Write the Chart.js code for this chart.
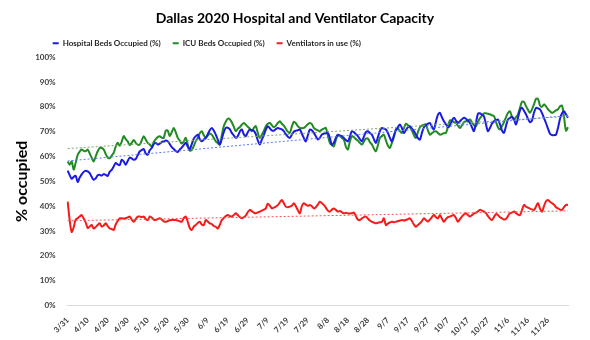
<!DOCTYPE html>
<html>
<head>
<meta charset="utf-8">
<script src="https://cdn.jsdelivr.net/npm/chart.js@4.4.1/dist/chart.umd.min.js"></script>
<style>
  html, body { margin: 0; padding: 0; background: #fff; }
  #wrap { width: 590px; height: 340px; position: relative; }
</style>
</head>
<body>
<div id="wrap"><canvas id="chart"></canvas></div>
<script>
// daily values, 3/31 .. 12/6 (one row = 10 days)
const hospital = [
  54.3,52.5,51.0,51.8,52.2,49.7,51.5,52.8,53.8,54.3,
  54.0,53.3,51.8,50.6,51.2,52.4,52.6,52.3,52.9,52.6,
  52.2,53.8,54.6,56.0,57.4,56.8,56.5,58.7,58.0,56.7,
  58.2,59.6,59.2,58.7,59.0,60.5,62.1,62.6,63.0,61.2,
  60.7,62.5,63.4,65.0,65.5,64.8,65.2,65.8,66.1,66.4,
  66.1,65.0,63.8,63.0,62.2,61.8,62.8,63.6,64.6,65.5,
  64.0,62.8,65.0,67.2,68.2,68.8,67.0,66.1,66.8,67.5,
  69.0,70.6,71.5,70.5,68.8,66.8,64.8,67.0,69.8,71.5,
  71.6,71.0,69.5,68.5,67.5,68.2,70.0,70.9,69.0,68.2,
  69.8,70.9,70.6,70.4,69.0,66.5,64.8,66.8,68.5,70.8,
  72.2,71.4,70.5,70.4,71.0,71.5,71.2,70.9,70.2,69.0,
  68.0,67.5,68.8,70.0,70.4,70.6,70.9,69.2,67.5,66.1,
  68.5,70.8,70.6,69.5,68.2,66.8,67.5,68.8,69.2,69.4,
  69.5,67.5,64.8,65.5,67.5,68.8,68.5,68.2,67.5,66.6,
  66.1,68.0,70.2,69.8,69.0,68.2,67.0,66.1,68.0,69.8,
  70.2,69.5,68.8,67.0,65.5,67.8,70.2,71.5,71.2,70.9,
  69.5,67.5,66.1,68.4,70.5,71.8,72.9,71.5,69.5,70.6,
  71.8,72.2,71.2,70.2,68.8,67.5,66.8,69.5,71.8,72.6,
  73.2,73.5,72.0,70.9,74.0,76.8,77.6,75.8,74.2,73.0,
  71.8,72.5,74.5,75.6,74.5,73.6,74.2,75.0,75.6,75.2,
  74.4,73.5,71.8,70.2,73.5,77.2,77.4,76.8,76.2,73.0,
  70.2,71.5,73.2,74.2,74.6,74.9,73.0,70.5,69.5,72.2,
  74.9,75.5,76.0,75.0,72.9,75.5,78.6,79.6,78.4,77.0,
  75.2,73.8,74.5,77.6,79.6,79.4,79.0,77.5,75.5,73.5,
  71.2,69.2,68.6,68.6,68.8,71.5,75.2,77.4,78.2,77.0,
  75.6
];
const icu = [
  58.0,56.7,58.0,54.7,57.5,60.7,62.0,62.8,62.3,62.1,
  62.8,61.2,59.5,58.0,60.0,62.1,63.4,63.4,62.8,61.0,
  59.6,59.3,60.4,61.5,64.0,65.5,64.3,66.0,68.2,67.0,
  66.1,64.6,65.5,66.6,65.5,64.8,64.8,66.5,68.2,66.8,
  65.5,64.8,64.1,65.8,67.0,67.8,68.2,67.6,67.5,70.4,
  70.4,68.2,69.8,71.5,69.8,67.5,66.4,65.2,66.0,67.5,
  64.8,62.4,62.6,64.2,66.2,67.5,69.4,70.2,68.6,67.5,
  68.4,69.3,68.8,67.5,66.1,65.4,64.8,68.5,72.2,74.0,
  75.2,75.0,73.8,72.0,70.2,71.2,71.8,72.8,73.5,72.8,
  72.0,71.2,70.2,71.5,72.2,69.5,67.5,68.8,70.2,72.2,
  73.2,73.5,72.6,71.8,72.4,73.5,74.2,73.2,72.4,71.2,
  70.0,69.5,72.0,74.0,73.4,72.2,71.5,71.4,71.5,72.2,
  73.0,73.5,73.0,71.5,70.9,70.5,70.2,70.8,71.2,71.5,
  68.5,65.5,64.6,64.1,66.6,68.5,68.2,67.5,66.8,64.0,
  62.8,66.0,68.2,67.8,67.0,66.4,65.5,64.8,66.0,67.2,
  67.2,65.8,64.8,63.2,62.1,64.5,67.5,68.2,68.8,66.5,
  64.4,63.4,65.5,67.8,71.0,71.2,70.2,69.5,71.4,73.2,
  72.6,71.8,70.5,68.6,67.5,69.8,71.8,72.4,72.8,72.9,
  70.5,68.8,69.4,70.0,70.2,69.5,68.8,69.0,69.4,69.5,
  72.0,74.6,74.4,73.8,73.5,72.4,71.5,72.6,73.8,74.2,
  74.6,74.9,73.8,72.6,72.2,74.0,75.4,76.5,77.4,77.4,
  77.2,77.0,76.6,76.3,74.0,71.8,70.9,72.2,73.8,75.8,
  77.5,78.2,76.0,74.9,75.8,77.0,79.6,82.0,82.0,80.3,
  78.8,77.6,79.0,81.0,83.2,83.2,80.6,80.0,81.0,80.2,
  79.0,78.2,77.6,78.0,78.6,79.0,80.2,80.5,76.0,70.4,
  71.8
];
const ventilators = [
  41.8,34.4,29.6,31.5,34.6,35.1,35.8,36.4,35.0,33.5,
  31.2,31.8,32.4,31.0,31.6,32.4,33.1,31.8,32.2,33.1,
  32.0,31.0,30.8,30.4,32.6,34.0,35.1,35.1,35.0,35.1,
  35.5,35.8,34.6,33.7,34.8,35.8,35.8,35.6,35.8,34.8,
  34.4,35.8,35.4,34.6,34.4,34.8,35.1,34.6,33.9,33.7,
  34.0,34.3,34.4,34.4,34.4,34.2,33.9,33.7,35.2,35.8,
  33.7,31.2,30.4,31.8,32.4,33.2,33.7,32.6,32.4,34.4,
  33.8,33.1,32.8,32.0,31.7,31.0,32.4,34.4,35.2,36.0,
  36.4,36.0,35.8,36.4,37.1,36.4,35.6,35.1,35.6,36.2,
  37.6,38.5,38.0,37.4,37.1,37.5,37.8,38.2,38.6,39.1,
  41.0,40.2,39.1,39.4,39.8,40.4,41.5,42.5,41.2,39.8,
  39.6,39.8,40.2,41.2,40.0,38.4,37.1,40.0,41.2,40.6,
  40.2,40.5,40.0,39.1,39.6,40.6,41.8,41.2,40.5,39.4,
  38.2,37.8,38.6,39.1,38.5,37.8,38.0,37.6,37.1,37.3,
  37.1,37.0,37.2,37.4,36.0,34.6,34.4,35.0,35.6,35.8,
  35.0,34.2,33.7,33.4,33.1,33.3,33.5,33.7,35.1,32.4,
  33.0,33.4,33.7,33.5,33.7,34.0,34.2,34.4,34.2,34.4,
  34.8,35.1,34.0,32.6,31.7,32.4,33.1,34.0,35.1,34.4,
  33.8,34.6,35.6,36.4,35.6,35.1,36.4,35.0,33.7,34.8,
  35.6,35.8,36.2,36.4,35.2,33.7,34.8,35.8,36.6,37.1,
  36.4,35.8,36.4,37.0,37.4,37.9,38.5,38.2,37.8,37.2,
  36.0,35.0,34.4,35.6,36.8,36.4,35.5,35.1,34.6,34.8,
  36.0,37.1,37.4,37.8,37.2,36.6,36.4,38.4,40.5,39.8,
  39.4,39.0,38.7,38.5,39.8,41.2,39.0,37.8,40.0,42.0,
  42.5,41.8,41.2,40.6,39.6,39.1,38.6,38.5,39.6,40.5,
  40.5
];

// linear trendlines, start / end value
const hospitalTrend = [58.2, 76.5];
const icuTrend = [63.2, 76.2];
const ventTrend = [34.1, 38.1];

// x tick labels that are shown
const tickLabels = ['3/31','4/10','4/20','4/30','5/10','5/20','5/30','6/9','6/19','6/29',
  '7/9','7/19','7/29','8/8','8/18','8/28','9/7','9/17','9/27','10/7','10/17','10/27',
  '11/6','11/16','11/26'];

const days = hospital.map((v, i) => {
  const d = new Date(2020, 2, 31 + i);
  return (d.getMonth() + 1) + '/' + d.getDate();
});
const first = days[0];
const last = days[days.length - 1];

const FONT = 'Lato, "Open Sans", sans-serif';

function trend(vals, color) {
  return {
    label: 'trend',
    data: [{ x: first, y: vals[0] }, { x: last, y: vals[1] }],
    borderColor: color,
    borderWidth: 1,
    borderDash: [2, 2],
    pointRadius: 0,
    fill: false
  };
}
function series(label, vals, color) {
  return {
    label: label,
    data: vals,
    borderColor: color,
    backgroundColor: color,
    borderWidth: 2,
    pointRadius: 0,
    tension: 0.3,
    fill: false,
    pointStyle: 'line'
  };
}

// legend at the left edge of the plot, title centred on the page
const blockShift = {
  id: 'blockShift',
  afterLayout(chart) {
    const lg = chart.legend;
    const dx = lg.left - (chart.chartArea.left - 27);
    lg.left -= dx;
    lg.right -= dx;
    const tb = chart.titleBlock;
    tb.left += 7;
    tb.right += 7;
  }
};

new Chart(document.getElementById('chart'), {
  type: 'line',
  data: {
    labels: days,
    datasets: [
      trend(hospitalTrend, '#5d7cf5'),
      trend(icuTrend, '#7fa472'),
      trend(ventTrend, '#f25555'),
      series('Hospital Beds Occupied (%)', hospital, '#1c1ce0'),
      series('ICU Beds Occupied (%)', icu, '#228a22'),
      series('Ventilators in use (%)', ventilators, '#f51b1b')
    ]
  },
  plugins: [blockShift],
  options: {
    responsive: true,
    maintainAspectRatio: false,
    animation: false,
    layout: { padding: { left: 8, right: 22, top: 0, bottom: 0 } },
    plugins: {
      title: {
        display: true,
        text: 'Dallas 2020 Hospital and Ventilator Capacity',
        color: '#000',
        font: { family: FONT, size: 14, weight: 'bold' },
        padding: { top: 10, bottom: 0.4 }
      },
      legend: {
        position: 'top',
        align: 'start',
        fullSize: false,
        labels: {
          usePointStyle: true,
          pointStyleWidth: 6,
          boxHeight: 8,
          padding: 12,
          color: '#262626',
          font: { family: FONT, size: 8, weight: 'bold' },
          filter: (item) => item.text !== 'trend'
        }
      },
      tooltip: { enabled: false }
    },
    scales: {
      x: {
        grid: { display: false },
        border: { display: true, color: '#d9d9d9' },
        ticks: {
          autoSkip: false,
          minRotation: 45,
          maxRotation: 45,
          padding: 2,
          color: '#404040',
          font: { family: FONT, size: 8, weight: 'bold' },
          callback: function (value) {
            const lab = this.getLabelForValue(value);
            return tickLabels.includes(lab) ? lab : '';
          }
        }
      },
      y: {
        min: 0,
        max: 100,
        grid: { display: false },
        border: { display: false },
        ticks: {
          stepSize: 5,
          padding: 4,
          color: '#404040',
          font: { family: FONT, size: 8, weight: 'bold' },
          callback: (v) => v + '%'
        },
        title: {
          display: true,
          text: '% occupied',
          color: '#000',
          font: { family: FONT, size: 16, weight: 'bold' },
          padding: { top: 4, bottom: 0 }
        }
      }
    }
  }
});
</script>
</body>
</html>
